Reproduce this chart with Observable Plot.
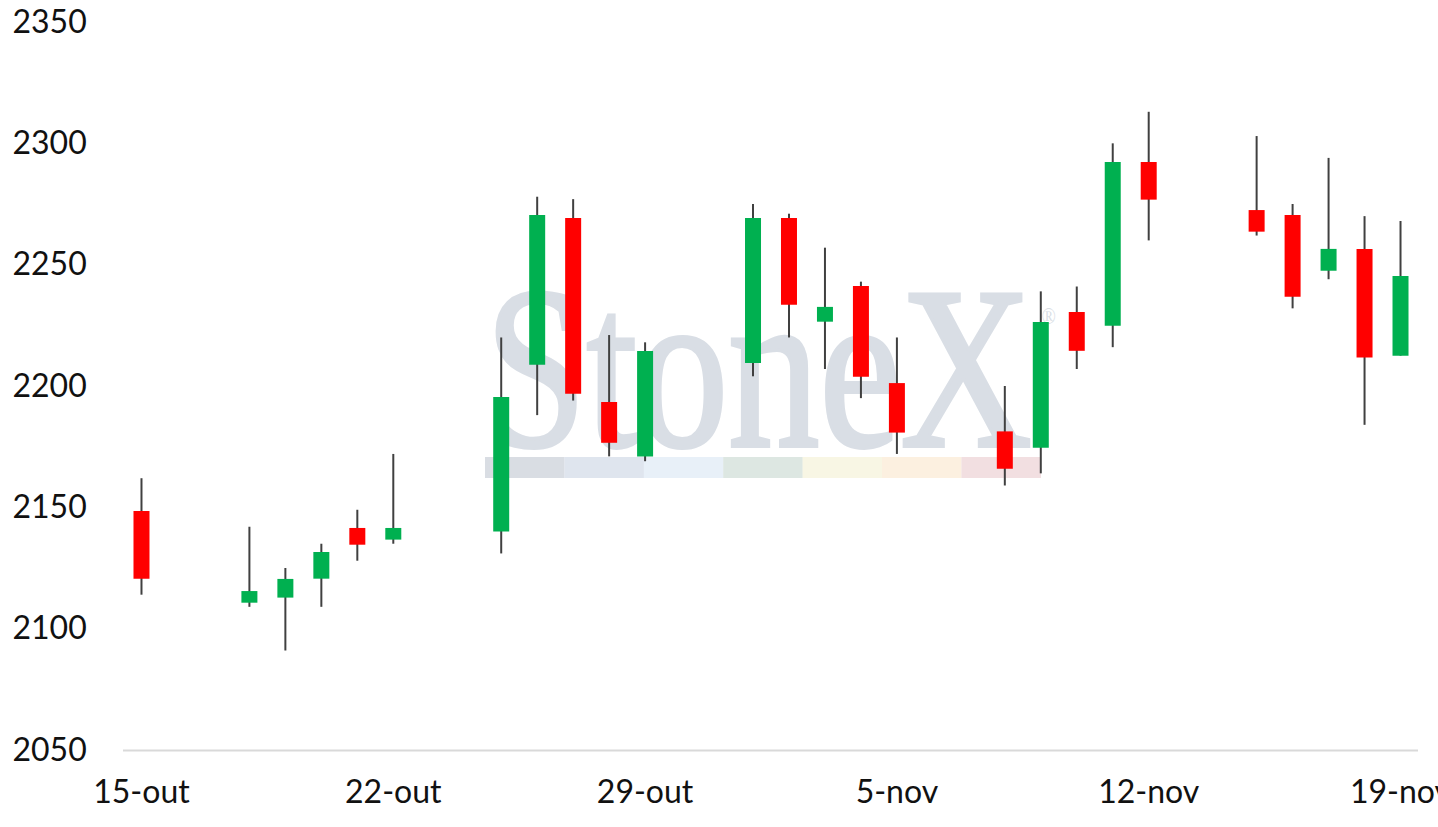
<!DOCTYPE html>
<html>
<head>
<meta charset="utf-8">
<script src="https://cdn.jsdelivr.net/npm/d3@7"></script>
<script src="https://cdn.jsdelivr.net/npm/@observablehq/plot@0.6"></script>
<style>
  body { margin: 0; background: #fff; overflow: hidden; }
  #wrap { position: relative; width: 1438px; height: 827px; }
  #mark { position: absolute; left: 0; top: 0; z-index: 0; }
  #chart { position: absolute; left: 0; top: 0; z-index: 1; }
</style>
</head>
<body>
<div id="wrap">
  <svg id="mark" width="1438" height="827">
    <text transform="translate(485,446) scale(0.786,1)" font-family="Liberation Serif" font-size="232"
          fill="#d9dee5" stroke="#d9dee5" stroke-width="4">StoneX<tspan font-size="24" stroke-width="0" dx="12" dy="-122">®</tspan></text>
    <g id="bar"></g>
  </svg>
  <div id="chart"></div>
</div>
<script>
// daily candles, 15-out .. 19-nov
const dates = ["2021-10-15","2021-10-18","2021-10-19","2021-10-20","2021-10-21","2021-10-22",
  "2021-10-25","2021-10-26","2021-10-27","2021-10-28","2021-10-29",
  "2021-11-01","2021-11-02","2021-11-03","2021-11-04","2021-11-05",
  "2021-11-08","2021-11-09","2021-11-10","2021-11-11","2021-11-12",
  "2021-11-15","2021-11-16","2021-11-17","2021-11-18","2021-11-19"];
const open  = [2148.5,2110.7,2112.8,2120.6,2141.5,2136.7, 2140,2208.8,2269.2,2193.4,2170.9,
  2209.5,2269.2,2226.5,2241.2,2201.2, 2181.3,2174.6,2230.5,2224.8,2292.3, 2272.5,2270.5,2247.5,2256.5,2212.5];
const high  = [2162,2142,2125,2135,2149,2172, 2220,2278,2277,2221,2218,
  2275,2271,2257,2243,2220, 2200,2239,2241,2300,2313, 2303,2275,2294,2270,2268];
const low   = [2114,2109,2091,2109,2128,2135, 2131,2188,2194,2171,2169,
  2204,2220,2207,2195,2172, 2159,2164,2207,2216,2260, 2262,2232,2244,2184,2212.5];
const close = [2120.6,2115.5,2120.5,2131.6,2134.6,2141.5, 2195.5,2270.5,2196.8,2176.6,2214.4,
  2269.2,2233.5,2232.6,2203.8,2180.8, 2165.9,2226.4,2214.5,2292.3,2276.8, 2263.6,2236.8,2256.5,2211.7,2245.3];

const xTicks = ["2021-10-15","2021-10-22","2021-10-29","2021-11-05","2021-11-12","2021-11-19"];
const yTicks = [2050,2100,2150,2200,2250,2300,2350];
const months = ["jan","fev","mar","abr","mai","jun","jul","ago","set","out","nov","dez"];

const barColors = ["#d9dde3","#dfe5ee","#e8f0f8","#dde7e2","#f8f6e4","#fcf0e0","#f2dfe1"];

const data = dates.map((d, i) => ({
  date: new Date(d + "T00:00:00Z"),
  open: open[i], high: high[i], low: low[i], close: close[i]
}));

// watermark colour strip
const bar = d3.select("#bar");
barColors.forEach((c, i) => {
  bar.append("rect").attr("x", 485 + i * 79.4).attr("y", 457)
    .attr("width", 79.6).attr("height", 21).attr("fill", c);
});

const fmt = d => `${d.getUTCDate()}-${months[d.getUTCMonth()]}`;

const chart = Plot.plot({
  width: 1438,
  height: 827,
  marginLeft: 123,
  marginRight: 20,
  marginTop: 22,
  marginBottom: 77,
  style: {background: "transparent", overflow: "visible", fontFamily: "Lato", fontSize: "32px", color: "#111"},
  x: {
    type: "utc",
    domain: [new Date("2021-10-14T12:00:00Z"), new Date("2021-11-19T12:00:00Z")]
  },
  y: {domain: [2050, 2350]},
  marks: [
    Plot.ruleY([2050], {stroke: "#d9d9d9", strokeWidth: 2}),
    Plot.axisY({ticks: yTicks, tickFormat: d => String(d), tickSize: 0, tickPadding: 0, textAnchor: "start", dx: -111, label: null, fill: "#111"}),
    Plot.axisX({ticks: xTicks.map(d => new Date(d + "T00:00:00Z")), tickFormat: fmt, tickSize: 0, tickPadding: 30, label: null, fill: "#111"}),
    Plot.ruleX(data, {x: "date", y1: "low", y2: "high", stroke: "#404040", strokeWidth: 2}),
    Plot.ruleX(data, {
      x: "date", y1: "open", y2: "close", strokeWidth: 16,
      stroke: d => d.close >= d.open ? "#00b050" : "#ff0000"
    })
  ]
});

document.getElementById("chart").append(chart);
</script>
</body>
</html>
